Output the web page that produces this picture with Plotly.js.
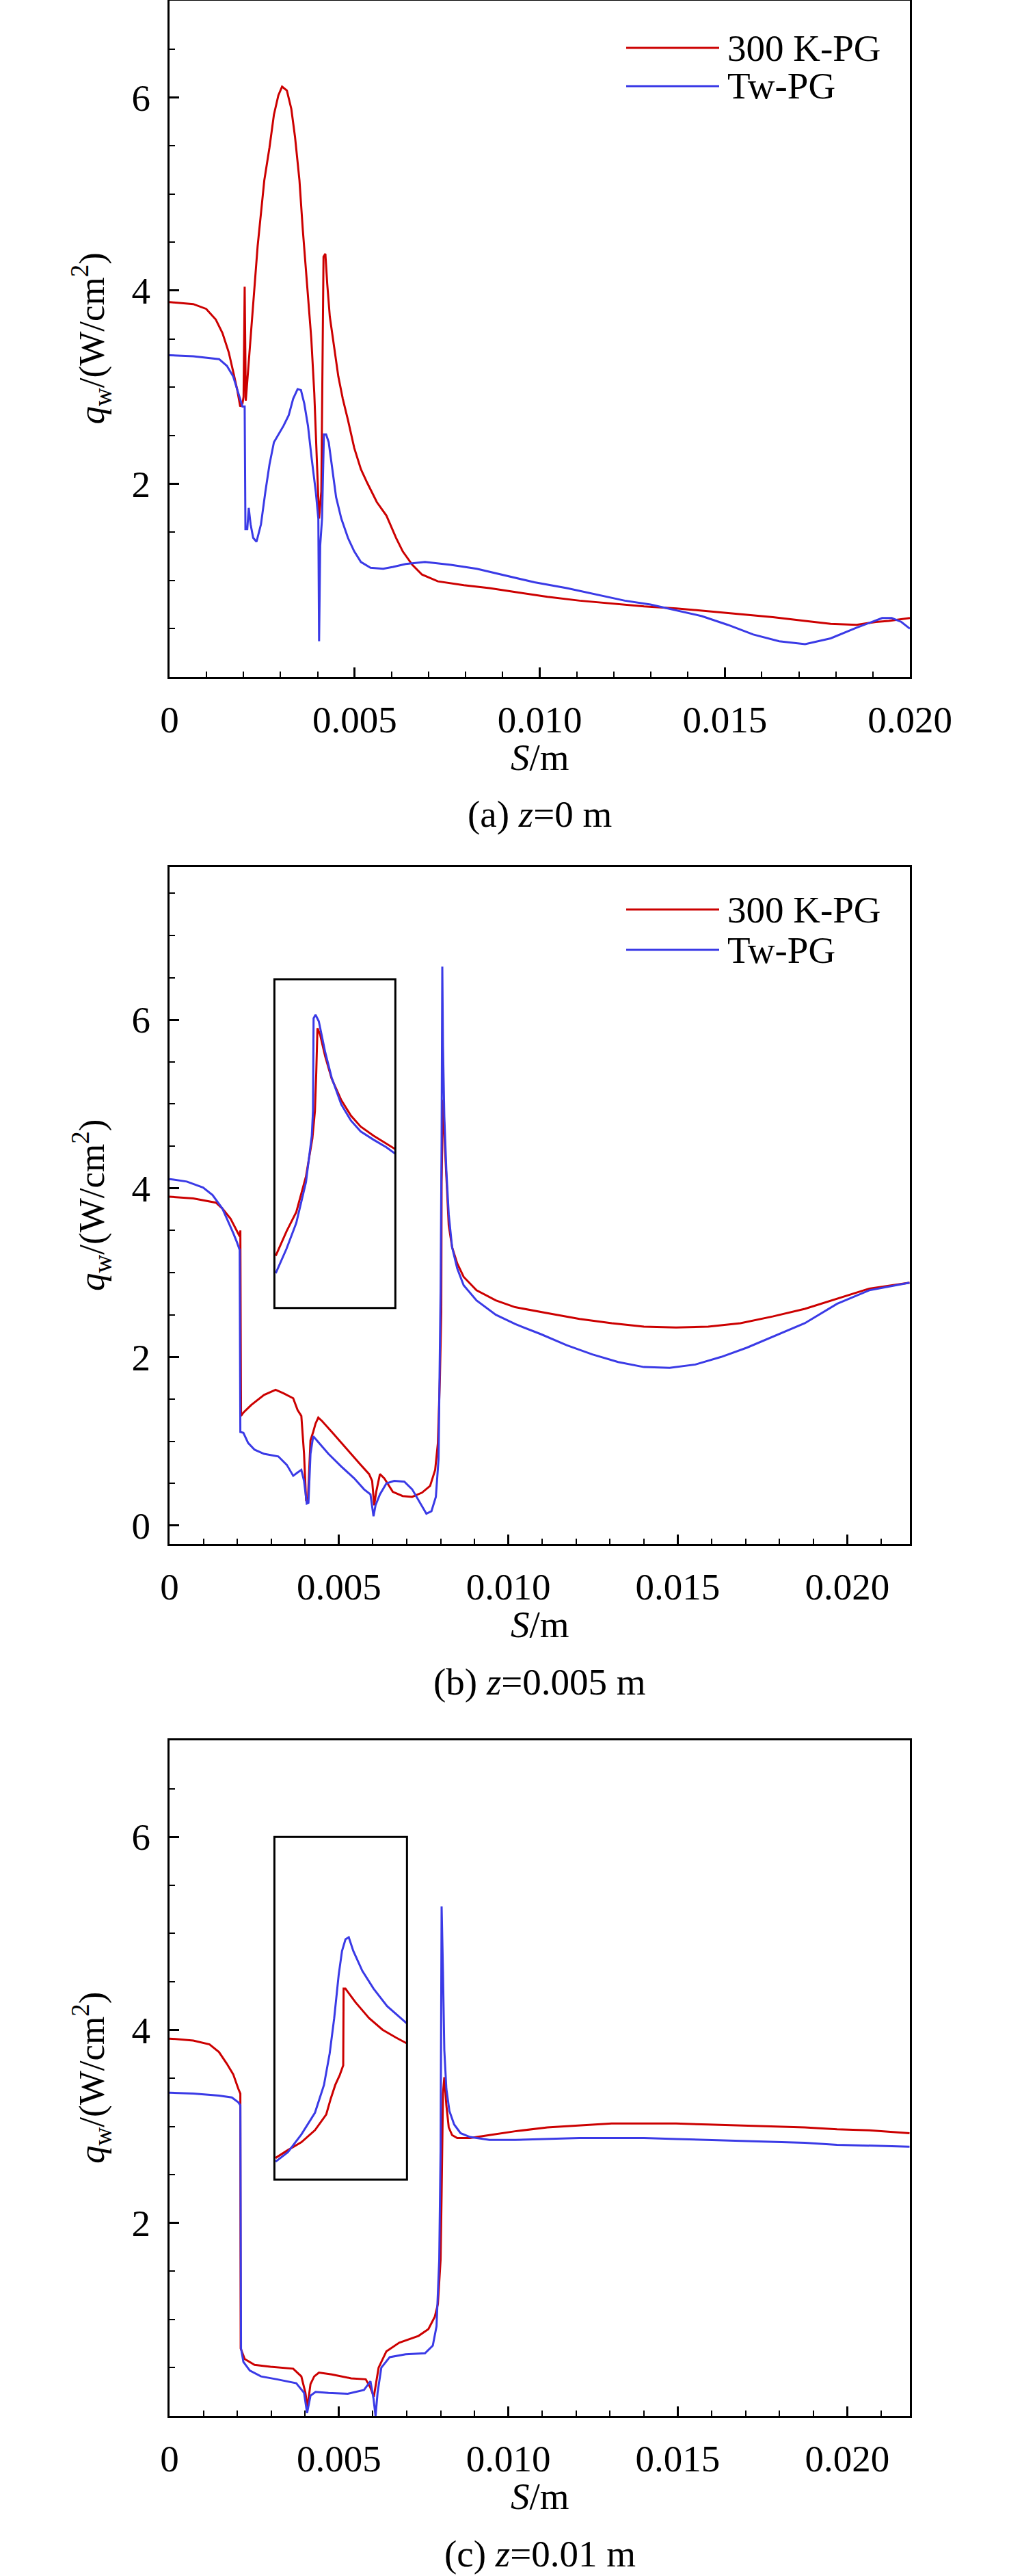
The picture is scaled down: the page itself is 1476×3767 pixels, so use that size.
<!DOCTYPE html>
<html>
<head>
<meta charset="utf-8">
<script src="https://cdn.plot.ly/plotly-3.0.1.min.js"></script>
<style>
html, body { margin: 0; padding: 0; background: #fff; }
#chart { width: 1476px; height: 3767px; }
</style>
</head>
<body>
<div id="chart"></div>
<script>
// ---- data: S in m, q_w in W/cm^2 ----

// (a) z = 0 m
let aRedS = [0, 0.00064, 0.00099, 0.00125, 0.00143, 0.0016, 0.00172, 0.00183, 0.00191, 0.00197, 0.002, 0.00203, 0.00206, 0.00212, 0.00221, 0.0023, 0.00238, 0.00247, 0.00256, 0.0027, 0.00282, 0.00294, 0.00304, 0.00317, 0.00329, 0.00339, 0.00351, 0.0036, 0.00372, 0.00383, 0.00391, 0.00398, 0.00404, 0.0041, 0.00416, 0.00421, 0.00426, 0.00433, 0.00444, 0.00456, 0.00468, 0.00482, 0.00499, 0.00517, 0.00534, 0.0056, 0.00586, 0.00612, 0.0063, 0.00656, 0.00682, 0.00725, 0.00795, 0.00864, 0.00934, 0.01021, 0.01108, 0.01195, 0.01282, 0.01369, 0.01456, 0.01543, 0.0163, 0.01717, 0.01786, 0.01856, 0.01908, 0.01943, 0.02];
let aRedQ = [3.88, 3.86, 3.81, 3.70, 3.56, 3.36, 3.16, 2.97, 2.80, 2.83, 2.90, 4.04, 2.86, 3.16, 3.62, 4.01, 4.46, 4.80, 5.14, 5.48, 5.82, 6.02, 6.11, 6.07, 5.88, 5.59, 5.14, 4.63, 4.07, 3.50, 2.94, 2.26, 1.64, 1.92, 4.35, 4.38, 4.07, 3.73, 3.45, 3.11, 2.88, 2.66, 2.37, 2.15, 2.01, 1.81, 1.67, 1.44, 1.30, 1.16, 1.06, 0.99, 0.95, 0.92, 0.88, 0.83, 0.79, 0.76, 0.73, 0.71, 0.68, 0.65, 0.62, 0.58, 0.55, 0.54, 0.57, 0.58, 0.61];
let aBlueS = [0, 0.00064, 0.00134, 0.00155, 0.00172, 0.00186, 0.00197, 0.00203, 0.00205, 0.0021, 0.00214, 0.00219, 0.00226, 0.00235, 0.00247, 0.00259, 0.0027, 0.00282, 0.00294, 0.00308, 0.00322, 0.00334, 0.00346, 0.00355, 0.00364, 0.00374, 0.00384, 0.00395, 0.00402, 0.00404, 0.00407, 0.00412, 0.00417, 0.00423, 0.0043, 0.00438, 0.0045, 0.00464, 0.00482, 0.00499, 0.00517, 0.00543, 0.00577, 0.00604, 0.00638, 0.0069, 0.0076, 0.0083, 0.00899, 0.00986, 0.01073, 0.0116, 0.0123, 0.01299, 0.01369, 0.01438, 0.01508, 0.01577, 0.01647, 0.01717, 0.01786, 0.01856, 0.01925, 0.01951, 0.01977, 0.02];
let aBlueQ = [3.33, 3.32, 3.29, 3.22, 3.11, 2.94, 2.80, 2.80, 1.53, 1.53, 1.75, 1.58, 1.44, 1.40, 1.58, 1.92, 2.20, 2.43, 2.51, 2.60, 2.71, 2.88, 2.98, 2.97, 2.83, 2.60, 2.26, 1.92, 1.64, 0.37, 1.36, 1.64, 2.51, 2.51, 2.43, 2.20, 1.86, 1.64, 1.44, 1.30, 1.19, 1.13, 1.12, 1.14, 1.17, 1.19, 1.16, 1.12, 1.06, 0.98, 0.92, 0.85, 0.79, 0.75, 0.69, 0.63, 0.54, 0.44, 0.37, 0.34, 0.40, 0.51, 0.61, 0.61, 0.57, 0.50];

// (b) z = 0.005 m
let bRedS = [0, 0.0007, 0.00137, 0.00156, 0.0018, 0.00199, 0.00207, 0.00209, 0.00211, 0.00218, 0.00241, 0.00279, 0.00313, 0.00336, 0.00365, 0.00378, 0.00389, 0.00397, 0.00403, 0.00408, 0.00416, 0.00424, 0.00431, 0.00439, 0.0045, 0.00479, 0.00507, 0.00536, 0.00564, 0.00589, 0.00598, 0.00604, 0.0061, 0.00621, 0.00634, 0.00659, 0.00688, 0.00716, 0.00745, 0.00769, 0.00784, 0.00792, 0.00798, 0.00802, 0.00803, 0.00807, 0.00809, 0.00813, 0.00819, 0.00824, 0.00834, 0.00849, 0.00868, 0.00906, 0.00963, 0.0102, 0.01115, 0.0121, 0.01305, 0.014, 0.01495, 0.0159, 0.01685, 0.0178, 0.01875, 0.0197, 0.02065, 0.02184];
let bRedQ = [3.90, 3.88, 3.83, 3.76, 3.64, 3.50, 3.43, 3.50, 1.30, 1.34, 1.43, 1.55, 1.61, 1.57, 1.51, 1.37, 1.30, 0.85, 0.30, 0.27, 1.01, 1.11, 1.21, 1.28, 1.24, 1.11, 0.98, 0.85, 0.72, 0.61, 0.53, 0.24, 0.40, 0.61, 0.56, 0.40, 0.35, 0.34, 0.39, 0.47, 0.66, 0.98, 1.76, 2.53, 4.08, 5.05, 4.92, 4.47, 3.95, 3.56, 3.30, 3.11, 2.95, 2.79, 2.67, 2.59, 2.52, 2.45, 2.40, 2.36, 2.35, 2.36, 2.40, 2.48, 2.57, 2.69, 2.81, 2.88];
let bBlueS = [0, 0.00051, 0.00099, 0.00127, 0.00156, 0.00175, 0.00188, 0.00199, 0.00207, 0.00209, 0.00218, 0.00232, 0.00251, 0.00279, 0.00321, 0.00346, 0.00365, 0.00378, 0.00389, 0.00397, 0.00405, 0.0041, 0.00416, 0.00424, 0.00441, 0.00469, 0.00507, 0.00545, 0.00574, 0.00593, 0.00602, 0.00608, 0.00621, 0.0064, 0.00663, 0.00693, 0.00716, 0.00739, 0.00758, 0.00773, 0.00786, 0.00794, 0.008, 0.00803, 0.00805, 0.00807, 0.00811, 0.00817, 0.00824, 0.00834, 0.00849, 0.00868, 0.00906, 0.00963, 0.0102, 0.01096, 0.01172, 0.01248, 0.01324, 0.014, 0.01476, 0.01552, 0.01628, 0.01704, 0.0178, 0.01875, 0.0197, 0.02065, 0.02184];
let bBlueQ = [4.11, 4.08, 4.01, 3.92, 3.76, 3.59, 3.47, 3.36, 3.27, 1.11, 1.10, 0.98, 0.90, 0.85, 0.82, 0.72, 0.59, 0.63, 0.66, 0.53, 0.26, 0.27, 0.85, 1.06, 0.98, 0.85, 0.70, 0.56, 0.43, 0.37, 0.11, 0.24, 0.37, 0.50, 0.53, 0.52, 0.43, 0.27, 0.14, 0.17, 0.34, 0.79, 2.79, 4.59, 6.63, 5.69, 4.85, 4.21, 3.69, 3.30, 3.05, 2.85, 2.67, 2.50, 2.39, 2.27, 2.14, 2.03, 1.94, 1.88, 1.87, 1.91, 2.00, 2.11, 2.24, 2.40, 2.63, 2.79, 2.88];

// (c) z = 0.01 m
let cRedS = [0, 0.0007, 0.00118, 0.00146, 0.00169, 0.00188, 0.00203, 0.00209, 0.0021, 0.00222, 0.00251, 0.00298, 0.00365, 0.00389, 0.00401, 0.00407, 0.00416, 0.00427, 0.00441, 0.00479, 0.00536, 0.00579, 0.00592, 0.00603, 0.00617, 0.0064, 0.00678, 0.00735, 0.00764, 0.00783, 0.00792, 0.008, 0.00803, 0.00807, 0.00811, 0.00817, 0.00824, 0.00834, 0.00849, 0.00887, 0.00944, 0.0102, 0.01115, 0.0121, 0.01305, 0.014, 0.01495, 0.0159, 0.01685, 0.0178, 0.01875, 0.0197, 0.02065, 0.02184];
let cRedQ = [3.91, 3.89, 3.85, 3.77, 3.65, 3.54, 3.39, 3.34, 0.70, 0.59, 0.53, 0.51, 0.49, 0.41, 0.24, 0.09, 0.33, 0.41, 0.45, 0.43, 0.39, 0.38, 0.30, 0.20, 0.50, 0.67, 0.76, 0.83, 0.90, 1.03, 1.16, 1.62, 2.30, 3.34, 3.51, 3.22, 2.99, 2.91, 2.88, 2.88, 2.91, 2.95, 2.99, 3.01, 3.03, 3.03, 3.03, 3.02, 3.01, 3.00, 2.99, 2.97, 2.96, 2.93];
let cBlueS = [0, 0.0007, 0.00146, 0.00184, 0.00203, 0.00209, 0.00211, 0.00218, 0.00237, 0.0027, 0.00317, 0.00374, 0.00397, 0.00406, 0.00416, 0.00431, 0.00469, 0.00526, 0.00574, 0.00593, 0.00602, 0.00608, 0.00614, 0.00625, 0.0065, 0.00697, 0.00754, 0.00777, 0.00788, 0.00796, 0.008, 0.00803, 0.00807, 0.00811, 0.00817, 0.00826, 0.0084, 0.00859, 0.00887, 0.00944, 0.0102, 0.01115, 0.0121, 0.01305, 0.014, 0.01495, 0.0159, 0.01685, 0.0178, 0.01875, 0.0197, 0.02065, 0.02184];
let cBlueQ = [3.35, 3.34, 3.32, 3.30, 3.25, 3.22, 0.70, 0.56, 0.47, 0.41, 0.38, 0.34, 0.24, 0.03, 0.21, 0.25, 0.24, 0.23, 0.27, 0.36, 0.18, 0.0, 0.24, 0.50, 0.61, 0.64, 0.65, 0.73, 0.93, 1.62, 2.76, 5.28, 4.60, 3.79, 3.39, 3.16, 3.02, 2.93, 2.89, 2.86, 2.86, 2.87, 2.88, 2.88, 2.88, 2.87, 2.86, 2.85, 2.84, 2.83, 2.81, 2.80, 2.79];

// magnified peak views drawn inside the boxes (relative position in the box, 0..1)
let insetBRedX = [0.011, 0.101, 0.181, 0.261, 0.314, 0.335, 0.346, 0.356, 0.378, 0.420, 0.473, 0.553, 0.633, 0.713, 0.819, 0.926, 1.0];
let insetBRedY = [0.159, 0.234, 0.292, 0.400, 0.516, 0.599, 0.715, 0.851, 0.831, 0.765, 0.698, 0.632, 0.585, 0.552, 0.524, 0.499, 0.483];
let insetBBlueX = [0.011, 0.101, 0.181, 0.261, 0.309, 0.319, 0.324, 0.340, 0.367, 0.420, 0.473, 0.553, 0.633, 0.713, 0.819, 0.926, 1.0];
let insetBBlueY = [0.106, 0.181, 0.259, 0.383, 0.524, 0.599, 0.881, 0.892, 0.872, 0.778, 0.701, 0.619, 0.570, 0.537, 0.512, 0.489, 0.469];
let insetCRedX = [0.009, 0.102, 0.204, 0.306, 0.391, 0.425, 0.459, 0.493, 0.519, 0.522, 0.536, 0.612, 0.714, 0.816, 0.918, 1.0];
let insetCRedY = [0.063, 0.086, 0.109, 0.144, 0.190, 0.236, 0.276, 0.305, 0.333, 0.557, 0.557, 0.517, 0.471, 0.437, 0.414, 0.397];
let insetCBlueX = [0.009, 0.102, 0.204, 0.306, 0.374, 0.417, 0.451, 0.485, 0.510, 0.536, 0.561, 0.595, 0.663, 0.748, 0.850, 1.0];
let insetCBlueY = [0.052, 0.080, 0.132, 0.195, 0.276, 0.368, 0.471, 0.598, 0.667, 0.701, 0.707, 0.667, 0.609, 0.557, 0.506, 0.455];

let seriesNames = ["300 K-PG", "Tw-PG"];
let sTickVals = [0, 0.005, 0.010, 0.015, 0.020];
let sTickText = ["0", "0.005", "0.010", "0.015", "0.020"];
let captions = ["(a) <i>z</i>=0 m", "(b) <i>z</i>=0.005 m", "(c) <i>z</i>=0.01 m"];

// ---- layout ----
const W = 1476, H = 3767;
const RED = "#cc0000", BLUE = "#3a3ae6";
const FONT = "'Liberation Serif', 'Times New Roman', serif";
const LEFT = 248, RIGHT = 1331;

// frame of each panel in page pixels, with its axis ranges
let panels = [
    {top: 1, bottom: 990, xr: [0, 0.020], yr: [0, 7], yt: [2, 4, 6], legend: [69, 125]},
    {top: 1268, bottom: 2258, xr: [0, 0.02185], yr: [-0.22, 7.81], yt: [0, 2, 4, 6], legend: [62, 121],
        box: [0.003095, 0.006665, 2.58, 6.48]},
    {top: 2545, bottom: 3533, xr: [0, 0.02185], yr: [0, 7], yt: [2, 4, 6],
        box: [0.003095, 0.007008, 2.45, 6.0]}
];

function pxX(p, v) {
    return LEFT + (v - p.xr[0]) / (p.xr[1] - p.xr[0]) * (RIGHT - LEFT);
}
function pxY(p, v) {
    return p.bottom - (v - p.yr[0]) / (p.yr[1] - p.yr[0]) * (p.bottom - p.top);
}

let tickFont = {family: FONT, size: 55, color: "#000"};
let layout = {
    width: W,
    height: H,
    margin: {l: 0, r: 0, t: 0, b: 0},
    paper_bgcolor: "#fff",
    plot_bgcolor: "rgba(0,0,0,0)",
    showlegend: false,
    font: {family: FONT, size: 55, color: "#000"},
    shapes: [],
    annotations: []
};

let traces = [];
let mainData = [
    [aRedS, aRedQ, aBlueS, aBlueQ],
    [bRedS, bRedQ, bBlueS, bBlueQ],
    [cRedS, cRedQ, cBlueS, cBlueQ]
];

panels.forEach((p, i) => {

    let n = i === 0 ? "" : String(i + 1);

    layout["xaxis" + n] = {
        domain: [LEFT / W, RIGHT / W],
        anchor: "y" + n,
        range: p.xr,
        showline: true, mirror: true, linecolor: "#000", linewidth: 3,
        ticks: "inside", ticklen: 14, tickwidth: 3, tickcolor: "#000",
        tickmode: "array", tickvals: sTickVals, ticktext: sTickText,
        minor: {tickmode: "linear", tick0: 0, dtick: 0.001, ticks: "inside", ticklen: 8, tickwidth: 2, tickcolor: "#000"},
        showgrid: false, zeroline: false,
        tickfont: tickFont,
        ticklabelstandoff: 12
    };
    layout["yaxis" + n] = {
        domain: [1 - p.bottom / H, 1 - p.top / H],
        anchor: "x" + n,
        range: p.yr,
        showline: true, mirror: true, linecolor: "#000", linewidth: 3,
        ticks: "inside", ticklen: 14, tickwidth: 3, tickcolor: "#000",
        tickmode: "array", tickvals: p.yt, ticktext: p.yt.map(String),
        minor: {tickmode: "linear", tick0: 0, dtick: 0.5, ticks: "inside", ticklen: 8, tickwidth: 2, tickcolor: "#000"},
        showgrid: false, zeroline: false,
        tickfont: tickFont,
        ticklabelstandoff: 14
    };

    let d = mainData[i];
    traces.push({x: d[0], y: d[1], xaxis: "x" + n, yaxis: "y" + n, type: "scatter", mode: "lines",
        name: seriesNames[0], line: {color: RED, width: 3}});
    traces.push({x: d[2], y: d[3], xaxis: "x" + n, yaxis: "y" + n, type: "scatter", mode: "lines",
        name: seriesNames[1], line: {color: BLUE, width: 3}});

    let midY = (p.top + p.bottom) / 2;

    // y title
    layout.annotations.push({
        xref: "paper", yref: "paper", x: 134 / W, y: 1 - midY / H,
        xanchor: "center", yanchor: "middle", textangle: -90, showarrow: false,
        text: "<i>q</i><sub>w</sub>/(W/cm<sup>2</sup>)", font: {family: FONT, size: 53, color: "#000"}
    });
    // x title
    layout.annotations.push({
        xref: "paper", yref: "paper", x: (LEFT + RIGHT) / 2 / W, y: 1 - (p.bottom + 117) / H,
        xanchor: "center", yanchor: "middle", showarrow: false,
        text: "<i>S</i>/m", font: {family: FONT, size: 55, color: "#000"}
    });
    // caption
    layout.annotations.push({
        xref: "paper", yref: "paper", x: (LEFT + RIGHT) / 2 / W, y: 1 - (p.bottom + 201) / H,
        xanchor: "center", yanchor: "middle", showarrow: false,
        text: captions[i], font: {family: FONT, size: 55, color: "#000"}
    });

    // legend drawn by hand so the sample lines can be long
    if(p.legend) {
        p.legend.forEach((off, k) => {
            let yy = 1 - (p.top + off) / H;
            layout.shapes.push({type: "line", xref: "paper", yref: "paper",
                x0: 916 / W, x1: 1052 / W, y0: yy, y1: yy,
                line: {color: k === 0 ? RED : BLUE, width: 3}});
            layout.annotations.push({xref: "paper", yref: "paper", x: 1062 / W, y: yy,
                xanchor: "left", yanchor: "middle", showarrow: false,
                text: seriesNames[k], font: {family: FONT, size: 55, color: "#000"}});
        });
    }

    // box around the magnified peak
    if(p.box) {
        let b = p.box;
        layout.shapes.push({type: "rect", xref: "x" + n, yref: "y" + n,
            x0: b[0], x1: b[1], y0: b[2], y1: b[3], line: {color: "#000", width: 3}});
        let m = String(i + 3);
        layout["xaxis" + m] = {domain: [pxX(p, b[0]) / W, pxX(p, b[1]) / W], anchor: "y" + m,
            range: [0, 1], visible: false};
        layout["yaxis" + m] = {domain: [1 - pxY(p, b[2]) / H, 1 - pxY(p, b[3]) / H], anchor: "x" + m,
            range: [0, 1], visible: false};
    }

});

traces.push({x: insetBRedX, y: insetBRedY, xaxis: "x4", yaxis: "y4", type: "scatter", mode: "lines",
    name: seriesNames[0], line: {color: RED, width: 3}});
traces.push({x: insetBBlueX, y: insetBBlueY, xaxis: "x4", yaxis: "y4", type: "scatter", mode: "lines",
    name: seriesNames[1], line: {color: BLUE, width: 3}});
traces.push({x: insetCRedX, y: insetCRedY, xaxis: "x5", yaxis: "y5", type: "scatter", mode: "lines",
    name: seriesNames[0], line: {color: RED, width: 3}});
traces.push({x: insetCBlueX, y: insetCBlueY, xaxis: "x5", yaxis: "y5", type: "scatter", mode: "lines",
    name: seriesNames[1], line: {color: BLUE, width: 3}});

Plotly.newPlot("chart", traces, layout, {staticPlot: true, displayModeBar: false});
</script>
</body>
</html>
